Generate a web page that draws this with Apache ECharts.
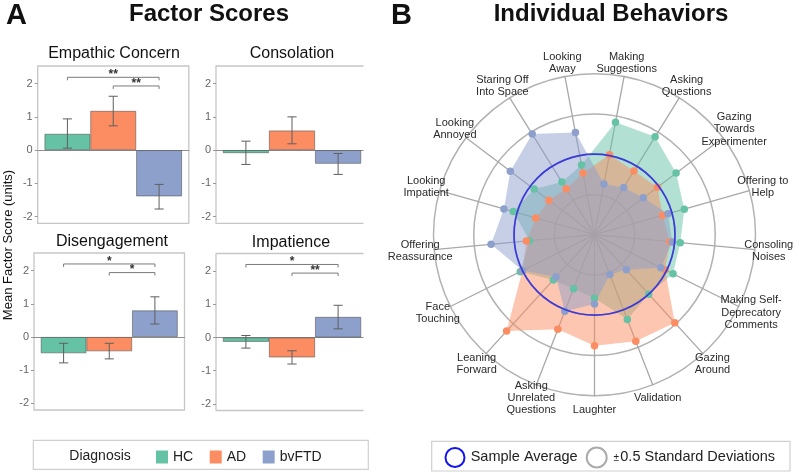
<!DOCTYPE html>
<html><head><meta charset="utf-8">
<script src="https://cdn.jsdelivr.net/npm/echarts@6/dist/echarts.min.js"></script>
<style>html,body{margin:0;padding:0;background:#fff}#c{width:800px;height:473px}</style>
</head><body><div id="c"></div>
<script>
// ---------- data ----------
const groups = ['HC', 'AD', 'bvFTD'];
const groupColors = ['#66c2a5', '#fc8d62', '#8da0cb'];
const factors = ['Empathic Concern', 'Consolation', 'Disengagement', 'Impatience'];
const meanHC  = [0.49, -0.09, -0.49, -0.13];
const meanAD  = [1.18,  0.59, -0.43, -0.60];
const meanFTD = [-1.39, -0.41, 0.80, 0.62];
const lowHC   = [0.06, -0.43, -0.78, -0.32];
const highHC  = [0.94,  0.27, -0.19,  0.06];
const lowAD   = [0.73,  0.19, -0.66, -0.80];
const highAD  = [1.62,  1.00, -0.19, -0.40];
const lowFTD  = [-1.77, -0.73, 0.39, 0.26];
const highFTD = [-1.03, -0.10, 1.21, 0.97];
const yTicks = [-2, -1, 0, 1, 2];
// significance brackets
const bracketPanel = [0, 0, 2, 2, 3, 3];
const bracketFrom  = [0, 1, 0, 1, 0, 1];
const bracketTo    = [2, 2, 2, 2, 2, 2];
const bracketY     = [2.19, 1.93, 2.2, 1.94, 2.2, 1.94];
const bracketStars = [2, 2, 1, 1, 1, 2];

// radar (counter-clockwise from "Making Suggestions")
const behaviors = ['Making\nSuggestions', 'Looking\nAway', 'Staring Off\nInto Space', 'Looking\nAnnoyed',
  'Looking\nImpatient', 'Offering\nReassurance', 'Face\nTouching', 'Leaning\nForward',
  'Asking\nUnrelated\nQuestions', 'Laughter', 'Validation', 'Gazing\nAround',
  'Making Self-\nDeprecatory\nComments', 'Consoling\nNoises', 'Offering to\nHelp',
  'Gazing\nTowards\nExperimenter', 'Asking\nQuestions'];
const radarHC  = [0.42, -0.12, -0.23, -0.06, 0.05, -0.19, 0.03, -0.24, -0.28, -0.21, 0.13, 0.00, 0.09, 0.07, 0.16, 0.27, 0.43];
const radarAD  = [0.01, -0.22, -0.33, -0.29, -0.24, -0.15, 0.00, 0.62, 0.26, 0.38, 0.42, 0.48, -0.02, -0.06, -0.12, -0.02, -0.07];
const radarFTD = [-0.36, 0.29, 0.47, 0.31, 0.17, 0.29, 0.00, -0.29, 0.02, -0.14, -0.47, -0.41, -0.08, -0.03, -0.05, -0.24, -0.31];
const radarMin = -1, radarMax = 1;

// ---------- build ----------
const FONT = "'Liberation Sans', Arial, sans-serif";
const means = [meanHC, meanAD, meanFTD];
const lows = [lowHC, lowAD, lowFTD];
const highs = [highHC, highAD, highFTD];
const CAT_GAP = 0.09;

const panelBoxes = [
  {left: 37.7, top: 66, width: 151.1, height: 157.3},
  {left: 216, top: 66, width: 152, height: 157.3},
  {left: 34, top: 253, width: 150.5, height: 157},
  {left: 216, top: 253.5, width: 152, height: 157}
];

const grids = [], xAxes = [], yAxes = [], series = [];
panelBoxes.forEach((b, p) => {
  grids.push(Object.assign({show: true, borderColor: '#c6c6c6', borderWidth: 1.3, backgroundColor: 'transparent', containLabel: false, outerBoundsMode: 'none'}, b));
  xAxes.push({type: 'category', gridIndex: p, data: [factors[p]],
    axisLabel: {show: false}, axisTick: {show: false},
    axisLine: {show: true, onZero: true, lineStyle: {color: '#8f8f8f', width: 1.2}},
    splitLine: {show: false}});
  yAxes.push({type: 'value', gridIndex: p, min: -2.2, max: 2.53,
    splitLine: {show: false}, axisLine: {show: false},
    axisTick: {show: true, length: 3, customValues: yTicks, lineStyle: {color: '#9a9a9a', width: 1}},
    axisLabel: {customValues: yTicks, fontSize: 11, color: '#666', margin: 5, fontFamily: FONT,
      formatter: v => (Number.isInteger(v) ? String(v) : '')}});
  groups.forEach((g, gi) => {
    series.push({type: 'bar', name: g, xAxisIndex: p, yAxisIndex: p, data: [means[gi][p]],
      barGap: '0%', barCategoryGap: (CAT_GAP * 100) + '%',
      itemStyle: {color: groupColors[gi], borderColor: 'rgba(70,70,70,0.65)', borderWidth: 0.8},
      emphasis: {disabled: true}, z: 2});
  });
  // error bars
  series.push({type: 'custom', xAxisIndex: p, yAxisIndex: p, z: 4, silent: true,
    data: groups.map((g, gi) => [0, gi, lows[gi][p], highs[gi][p]]),
    encode: {x: 0, y: 2},
    renderItem: function (params, api) {
      const gi = api.value(1);
      const lo = api.coord([0, api.value(2)]);
      const hi = api.coord([0, api.value(3)]);
      const band = api.size([1, 0])[0];
      const barW = band * (1 - CAT_GAP) / 3;
      const cx = lo[0] + (gi - 1) * barW;
      const cap = barW * 0.1;
      const st = {stroke: '#5f5f5f', lineWidth: 1};
      return {type: 'group', children: [
        {type: 'line', shape: {x1: cx, y1: hi[1], x2: cx, y2: lo[1]}, style: st},
        {type: 'line', shape: {x1: cx - cap, y1: hi[1], x2: cx + cap, y2: hi[1]}, style: st},
        {type: 'line', shape: {x1: cx - cap, y1: lo[1], x2: cx + cap, y2: lo[1]}, style: st}
      ]};
    }});
  // brackets
  const bData = [];
  bracketPanel.forEach((bp, i) => { if (bp === p) bData.push([0, bracketFrom[i], bracketTo[i], bracketY[i], bracketStars[i]]); });
  if (bData.length) {
    series.push({type: 'custom', xAxisIndex: p, yAxisIndex: p, z: 4, silent: true,
      data: bData, encode: {x: 0, y: 3},
      renderItem: function (params, api) {
        const from = api.value(1), to = api.value(2), n = api.value(4);
        const c = api.coord([0, api.value(3)]);
        const band = api.size([1, 0])[0];
        const barW = band * (1 - CAT_GAP) / 3;
        const x1 = c[0] + (from - 1) * barW, x2 = c[0] + (to - 1) * barW;
        const t = 3;
        return {type: 'group', children: [
          {type: 'polyline', shape: {points: [[x1, c[1] + t], [x1, c[1]], [x2, c[1]], [x2, c[1] + t]]},
            style: {stroke: '#7a7a7a', lineWidth: 1, fill: null}},
          {type: 'text', x: (x1 + x2) / 2, y: c[1] - 2.5,
            style: {text: '*'.repeat(n), align: 'center', verticalAlign: 'middle',
              fontSize: 12, fontWeight: 'bold', fontFamily: FONT, fill: '#333'}}
        ]};
      }});
  }
});

// radar
const radarCenter = [594.5, 234.7];
const radarR = 161;
const startAng = 90 - 180 / behaviors.length;
const radarVals = [radarHC, radarAD, radarFTD];
series.push({type: 'radar', radarIndex: 0, symbol: 'circle', symbolSize: 7.5, z: 3,
  data: groups.map((g, gi) => ({name: g, value: radarVals[gi],
    itemStyle: {color: groupColors[gi]},
    lineStyle: {width: 0, opacity: 0},
    areaStyle: {color: groupColors[gi], opacity: 0.5}}))});

const option = {
  animation: false,
  grid: grids, xAxis: xAxes, yAxis: yAxes,
  radar: [{
    center: radarCenter, radius: radarR, startAngle: startAng, shape: 'circle', splitNumber: 4,
    indicator: behaviors.map(n => ({name: n, min: radarMin, max: radarMax})),
    nameGap: 14,
    axisName: {color: '#2a2a2a', fontSize: 11, fontFamily: FONT, lineHeight: 12.3,
      align: 'center', verticalAlign: 'middle'},
    axisLine: {lineStyle: {color: '#a8a8a8', width: 1.3}},
    axisTick: {show: false}, axisLabel: {show: false},
    splitLine: {lineStyle: {color: '#b2b2b2', width: 1.5}},
    splitArea: {show: false}, z: 0
  }, {
    center: radarCenter, radius: radarR * (0 - radarMin) / (radarMax - radarMin), startAngle: startAng,
    shape: 'circle', splitNumber: 1,
    indicator: behaviors.map(n => ({name: '', min: radarMin, max: radarMax})),
    axisName: {show: false}, axisLine: {show: false}, axisTick: {show: false}, axisLabel: {show: false},
    splitLine: {lineStyle: {color: '#3b3bd9', width: 1.7}},
    splitArea: {show: false}, z: 10, silent: true
  }],
  legend: {data: groups, left: 156, top: 450, orient: 'horizontal', icon: 'rect',
    itemWidth: 12, itemHeight: 13, itemGap: 16.5, selectedMode: false, padding: 0,
    itemStyle: {borderWidth: 0},
    textStyle: {fontSize: 14, color: '#222', fontFamily: FONT}},
  graphic: [
    {type: 'rect', z: 100, shape: {x: 363.5, y: 58, width: 9, height: 360}, style: {fill: '#fff'}},
    {type: 'text', x: 6, y: 16, style: {text: 'A', fontSize: 29, fontWeight: 'bold', fontFamily: FONT, fill: '#111', align: 'left', verticalAlign: 'middle'}},
    {type: 'text', x: 209, y: 14, style: {text: 'Factor Scores', fontSize: 24, fontWeight: 'bold', fontFamily: FONT, fill: '#111', align: 'center', verticalAlign: 'middle'}},
    {type: 'text', x: 391, y: 16, style: {text: 'B', fontSize: 29, fontWeight: 'bold', fontFamily: FONT, fill: '#111', align: 'left', verticalAlign: 'middle'}},
    {type: 'text', x: 611, y: 14, style: {text: 'Individual Behaviors', fontSize: 24, fontWeight: 'bold', fontFamily: FONT, fill: '#111', align: 'center', verticalAlign: 'middle'}},
    {type: 'text', x: 114, y: 53.5, style: {text: factors[0], fontSize: 16, fontFamily: FONT, fill: '#111', align: 'center', verticalAlign: 'middle'}},
    {type: 'text', x: 292, y: 53.5, style: {text: factors[1], fontSize: 16, fontFamily: FONT, fill: '#111', align: 'center', verticalAlign: 'middle'}},
    {type: 'text', x: 112, y: 242, style: {text: factors[2], fontSize: 16, fontFamily: FONT, fill: '#111', align: 'center', verticalAlign: 'middle'}},
    {type: 'text', x: 291, y: 243, style: {text: factors[3], fontSize: 16, fontFamily: FONT, fill: '#111', align: 'center', verticalAlign: 'middle'}},
    {type: 'text', x: 8, y: 245, rotation: Math.PI / 2, style: {text: 'Mean Factor Score (units)', fontSize: 13, fontFamily: FONT, fill: '#111', align: 'center', verticalAlign: 'middle'}},
    {type: 'rect', shape: {x: 33.3, y: 440.3, width: 335, height: 29}, style: {fill: 'none', stroke: '#cfcfcf', lineWidth: 1.2}},
    {type: 'text', x: 69.3, y: 456.5, style: {text: 'Diagnosis', fontSize: 14, fontFamily: FONT, fill: '#222', align: 'left', verticalAlign: 'middle'}},
    {type: 'rect', shape: {x: 431.7, y: 441.3, width: 358.3, height: 29.7}, style: {fill: 'none', stroke: '#cfcfcf', lineWidth: 1.2}},
    {type: 'circle', shape: {cx: 455, cy: 457.5, r: 9.5}, style: {fill: 'none', stroke: '#1414ee', lineWidth: 2}},
    {type: 'text', x: 470.7, y: 457, style: {text: 'Sample Average', fontSize: 14.5, fontFamily: FONT, fill: '#222', align: 'left', verticalAlign: 'middle'}},
    {type: 'circle', shape: {cx: 596.7, cy: 457.5, r: 10}, style: {fill: 'none', stroke: '#ababab', lineWidth: 2}},
    {type: 'text', x: 613.5, y: 458, style: {text: '\u00b1', fontSize: 10, fontFamily: FONT, fill: '#222', align: 'left', verticalAlign: 'middle'}},
    {type: 'text', x: 620.3, y: 457, style: {text: '0.5 Standard Deviations', fontSize: 14.5, fontFamily: FONT, fill: '#222', align: 'left', verticalAlign: 'middle'}}
  ],
  series: series
};
const chart = echarts.init(document.getElementById('c'), null, {renderer: 'canvas'});
chart.setOption(option);
</script>
</body></html>
